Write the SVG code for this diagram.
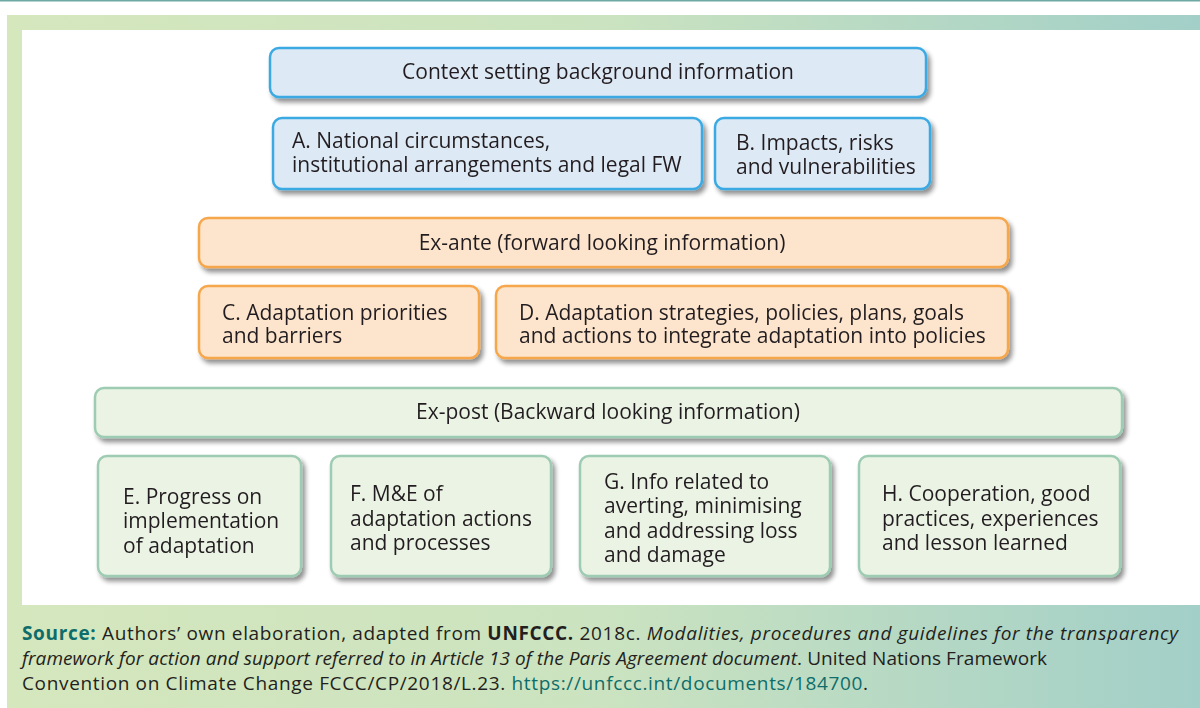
<svg xmlns="http://www.w3.org/2000/svg" width="1200" height="708" viewBox="0 0 1200 708">
<defs>
<linearGradient id="band" x1="0" y1="0" x2="1" y2="0">
<stop offset="0" stop-color="#d5e7bd"/>
<stop offset="0.5" stop-color="#cbe3c0"/>
<stop offset="1" stop-color="#a2cfc8"/>
</linearGradient>
<filter id="sh" x="-10%" y="-20%" width="120%" height="150%">
<feGaussianBlur in="SourceAlpha" stdDeviation="2.5"/>
<feOffset dx="3" dy="4" result="b"/>
<feComponentTransfer><feFuncA type="linear" slope="0.45"/></feComponentTransfer>
<feMerge><feMergeNode/><feMergeNode in="SourceGraphic"/></feMerge>
</filter>
</defs>
<style>
.t{font-family:"Open Sans","Noto Sans","Liberation Sans",sans-serif;font-size:21px;fill:#231f20}
.blue{fill:#dee9f6;stroke:#3aaae3;stroke-width:2.5}
.orng{fill:#fde5cd;stroke:#f6a64b;stroke-width:2.5}
.grn{fill:#ebf3e5;stroke:#9dccb2;stroke-width:2.5}
.cap{font-family:"Open Sans","Noto Sans","Liberation Sans",sans-serif;font-size:19px;fill:#231f20}
.teal{fill:#0e6d6a}
</style>
<rect x="0" y="0" width="1200" height="708" fill="#ffffff"/>
<rect x="0" y="0" width="1200" height="1.5" fill="#6fa9a3"/>
<rect x="7" y="15" width="1193" height="693" fill="url(#band)"/>
<rect x="22" y="30" width="1178" height="575" fill="#ffffff"/>

<g id="connectors"></g>

<g id="context" filter="url(#sh)"><rect class="blue" x="270" y="48" width="656" height="49" rx="9"/>
<text class="t" x="598" y="79" text-anchor="middle">Context setting background information</text></g>
<g id="nodeA" filter="url(#sh)"><rect class="blue" x="273" y="118" width="429" height="71" rx="9"/>
<text class="t" x="292" y="148">A. National circumstances,</text>
<text class="t" x="292" y="172">institutional arrangements and legal FW</text></g>
<g id="nodeB" filter="url(#sh)"><rect class="blue" x="715" y="118" width="215" height="71" rx="9"/>
<text class="t" x="736" y="150">B. Impacts, risks</text>
<text class="t" x="736" y="174">and vulnerabilities</text></g>

<g id="exante" filter="url(#sh)"><rect class="orng" x="199" y="218" width="809" height="49" rx="9"/>
<text class="t" x="602" y="250" text-anchor="middle">Ex-ante (forward looking information)</text></g>
<g id="nodeC" filter="url(#sh)"><rect class="orng" x="199" y="286" width="280" height="72" rx="9"/>
<text class="t" x="222" y="320">C. Adaptation priorities</text>
<text class="t" x="222" y="343">and barriers</text></g>
<g id="nodeD" filter="url(#sh)"><rect class="orng" x="496" y="286" width="512" height="72" rx="9"/>
<text class="t" x="519" y="320">D. Adaptation strategies, policies, plans, goals</text>
<text class="t" x="519" y="343">and actions to integrate adaptation into policies</text></g>

<g id="expost" filter="url(#sh)"><rect class="grn" x="95" y="388" width="1027" height="49" rx="9"/>
<text class="t" x="608" y="419" text-anchor="middle">Ex-post (Backward looking information)</text></g>
<g id="nodeE" filter="url(#sh)"><rect class="grn" x="98" y="456" width="203" height="120" rx="9"/>
<text class="t" x="123" y="504">E. Progress on</text>
<text class="t" x="123" y="528">implementation</text>
<text class="t" x="123" y="553">of adaptation</text></g>
<g id="nodeF" filter="url(#sh)"><rect class="grn" x="331" y="456" width="220" height="120" rx="9"/>
<text class="t" x="350" y="501">F. M&amp;E of</text>
<text class="t" x="350" y="526">adaptation actions</text>
<text class="t" x="350" y="550">and processes</text></g>
<g id="nodeG" filter="url(#sh)"><rect class="grn" x="580" y="456" width="250" height="120" rx="9"/>
<text class="t" x="604" y="489">G. Info related to</text>
<text class="t" x="604" y="513">averting, minimising</text>
<text class="t" x="604" y="538">and addressing loss</text>
<text class="t" x="604" y="562">and damage</text></g>
<g id="nodeH" filter="url(#sh)"><rect class="grn" x="859" y="456" width="261" height="120" rx="9"/>
<text class="t" x="882" y="501">H. Cooperation, good</text>
<text class="t" x="882" y="526">practices, experiences</text>
<text class="t" x="882" y="550">and lesson learned</text></g>

<g id="caption">
<text class="cap" x="22" y="640" textLength="1156" lengthAdjust="spacing"><tspan class="teal" font-weight="bold">Source:</tspan> Authors’ own elaboration, adapted from <tspan font-weight="bold">UNFCCC.</tspan> 2018c. <tspan font-style="italic">Modalities, procedures and guidelines for the transparency</tspan></text>
<text class="cap" x="22" y="665" textLength="1025" lengthAdjust="spacing"><tspan font-style="italic">framework for action and support referred to in Article 13 of the Paris Agreement document</tspan>. United Nations Framework</text>
<text class="cap" x="22" y="690" textLength="846" lengthAdjust="spacing">Convention on Climate Change FCCC/CP/2018/L.23. <tspan class="teal">https://unfccc.int/documents/184700</tspan>.</text>
</g>
</svg>
